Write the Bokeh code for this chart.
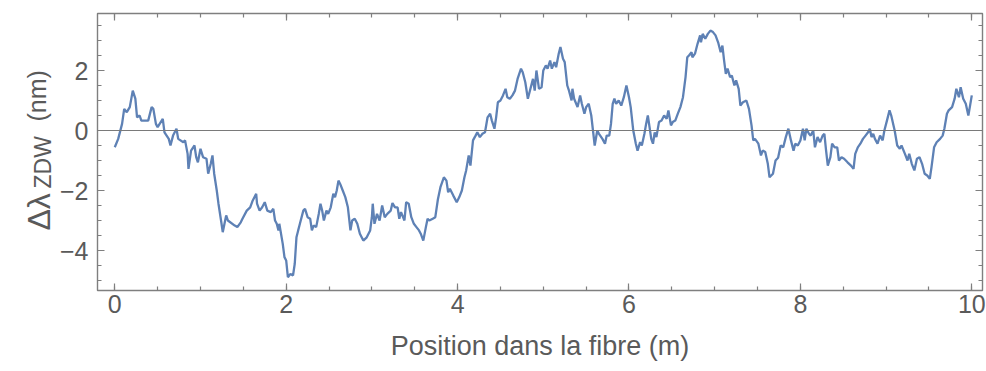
import math
from bokeh.plotting import figure
from bokeh.layouts import row
from bokeh.models import Span, LinearAxis, FixedTicker, Range1d, CustomLabelingPolicy
from bokeh.core.properties import value
from bokeh.embed import file_html
from bokeh.resources import INLINE

# ---- data ----
pos = [0.00, 0.04, 0.085, 0.11, 0.14, 0.175, 0.21, 0.24, 0.26, 0.29, 0.31, 0.39, 0.43, 0.45, 0.48, 0.50,
       0.56, 0.58, 0.63, 0.65, 0.68, 0.72, 0.74, 0.80, 0.82, 0.85, 0.86, 0.89, 0.93, 0.95, 0.97, 1.00,
       1.03, 1.07, 1.09, 1.12, 1.14, 1.16, 1.19, 1.21, 1.24, 1.26, 1.28, 1.30, 1.32, 1.40, 1.43, 1.47,
       1.49, 1.54, 1.58, 1.61, 1.65, 1.66, 1.69, 1.72, 1.75, 1.78, 1.82, 1.85, 1.87, 1.89, 1.91, 1.92,
       1.96, 1.98, 2.00, 2.02, 2.05, 2.08, 2.10, 2.12, 2.14, 2.16, 2.20, 2.22, 2.25, 2.28, 2.30, 2.32,
       2.35, 2.38, 2.40, 2.42, 2.44, 2.47, 2.49, 2.52, 2.55, 2.57, 2.59, 2.61, 2.63, 2.66, 2.69, 2.72,
       2.75, 2.77, 2.80, 2.83, 2.86, 2.90, 2.94, 2.98, 3.00, 3.01, 3.03, 3.06, 3.09, 3.12, 3.15, 3.18,
       3.22, 3.24, 3.27, 3.30, 3.32, 3.34, 3.38, 3.40, 3.43, 3.46, 3.49, 3.52, 3.55, 3.57, 3.60, 3.63,
       3.65, 3.67, 3.71, 3.74, 3.77, 3.80, 3.84, 3.87, 3.89, 3.91, 3.95, 3.99, 4.02, 4.05, 4.08, 4.10,
       4.13, 4.15, 4.18, 4.21, 4.23, 4.26, 4.29, 4.32, 4.35, 4.38, 4.40, 4.43, 4.45, 4.47, 4.50, 4.53,
       4.56, 4.58, 4.61, 4.64, 4.67, 4.70, 4.74, 4.76, 4.79, 4.82, 4.85, 4.88, 4.90, 4.92, 4.95, 4.98,
       5.00, 5.03, 5.05, 5.08, 5.10, 5.13, 5.15, 5.18, 5.20, 5.23, 5.25, 5.28, 5.30, 5.33, 5.34, 5.36,
       5.40, 5.43, 5.45, 5.48, 5.50, 5.53, 5.56, 5.58, 5.60, 5.63, 5.65, 5.69, 5.72, 5.74, 5.77, 5.79,
       5.81, 5.83, 5.85, 5.88, 5.91, 5.94, 5.97, 6.00, 6.02, 6.05, 6.08, 6.10, 6.13, 6.15, 6.18, 6.20,
       6.22, 6.24, 6.26, 6.28, 6.30, 6.32, 6.35, 6.38, 6.41, 6.44, 6.46, 6.49, 6.51, 6.54, 6.57, 6.60,
       6.63, 6.66, 6.68, 6.70, 6.73, 6.74, 6.77, 6.80, 6.83, 6.84, 6.86, 6.89, 6.92, 6.95, 6.98, 7.01,
       7.04, 7.07, 7.09, 7.11, 7.13, 7.15, 7.18, 7.20, 7.23, 7.25, 7.28, 7.30, 7.33, 7.37, 7.40, 7.43,
       7.45, 7.47, 7.51, 7.54, 7.56, 7.59, 7.62, 7.64, 7.68, 7.71, 7.74, 7.77, 7.80, 7.83, 7.86, 7.89,
       7.92, 7.94, 7.97, 8.00, 8.03, 8.05, 8.07, 8.10, 8.12, 8.15, 8.17, 8.20, 8.23, 8.26, 8.28, 8.30,
       8.32, 8.35, 8.37, 8.40, 8.43, 8.45, 8.48, 8.51, 8.55, 8.59, 8.62, 8.64, 8.67, 8.70, 8.73, 8.76,
       8.79, 8.81, 8.83, 8.85, 8.87, 8.90, 8.93, 8.96, 8.98, 9.01, 9.04, 9.06, 9.10, 9.13, 9.16, 9.18,
       9.22, 9.25, 9.27, 9.30, 9.33, 9.36, 9.39, 9.42, 9.45, 9.48, 9.51, 9.53, 9.56, 9.59, 9.63, 9.66,
       9.68, 9.71, 9.73, 9.77, 9.80, 9.82, 9.85, 9.87, 9.90, 9.93, 9.96, 9.98, 10.00]

dlambda = [-0.56, -0.28, 0.22, 0.72, 0.61, 0.78, 1.33, 1.06, 0.44, 0.50, 0.33, 0.33, 0.78, 0.72, 0.22, 0.11,
           0.39, -0.06, -0.28, -0.50, -0.17, 0.06, -0.28, -0.39, -0.33, -0.78, -1.28, -0.67, -0.50, -0.89, -1.06, -0.61,
           -0.89, -0.94, -1.44, -1.11, -0.83, -1.44, -2.00, -2.44, -3.00, -3.39, -3.11, -2.83, -3.00, -3.17, -3.22, -3.06,
           -2.94, -2.67, -2.56, -2.33, -2.11, -2.44, -2.67, -2.56, -2.39, -2.67, -2.72, -2.61, -3.00, -3.11, -3.33, -3.11,
           -3.78, -4.22, -4.33, -4.89, -4.78, -4.83, -4.44, -3.56, -3.33, -3.11, -2.67, -2.61, -2.89, -2.94, -3.33, -3.17,
           -3.22, -2.78, -2.44, -2.67, -3.00, -2.67, -2.78, -2.56, -2.11, -2.22, -2.00, -1.67, -1.78, -2.00, -2.22, -2.56,
           -3.33, -3.00, -2.94, -3.11, -3.44, -3.67, -3.56, -3.33, -2.89, -2.44, -3.11, -2.78, -3.00, -2.50, -2.89, -2.78,
           -2.67, -2.42, -2.56, -2.56, -2.94, -2.72, -3.00, -2.39, -2.44, -2.89, -3.11, -3.22, -3.33, -3.44, -3.67, -3.22,
           -2.94, -3.00, -2.94, -2.89, -2.30, -1.89, -1.56, -1.67, -2.06, -1.94, -2.17, -2.39, -2.22, -2.00, -1.56, -1.33,
           -0.83, -1.17, -0.33, -0.17, -0.06, -0.22, -0.11, -0.06, 0.44, 0.56, 0.33, 0.06, 0.44, 0.94, 1.00, 1.17,
           1.39, 1.11, 1.06, 1.17, 1.33, 1.72, 2.06, 1.94, 1.61, 1.06, 1.39, 1.72, 1.33, 2.00, 1.39, 1.44,
           2.00, 2.17, 2.06, 2.33, 2.06, 2.28, 2.11, 2.56, 2.78, 2.39, 2.28, 1.50, 1.33, 1.00, 1.39, 1.06,
           0.78, 1.17, 0.89, 0.56, 0.78, 0.89, 0.50, 0.00, -0.50, 0.00, -0.11, -0.28, -0.44, -0.17, -0.17, 0.22,
           0.89, 1.06, 0.89, 1.00, 0.83, 1.11, 1.50, 1.11, 0.78, 0.00, -0.44, -0.67, -0.39, -0.50, -0.11, 0.22,
           0.50, 0.11, -0.28, -0.44, -0.06, -0.22, 0.28, 0.33, 0.50, 0.39, 0.67, 0.17, 0.28, 0.33, 0.56, 0.78,
           1.11, 1.78, 2.44, 2.50, 2.61, 2.44, 2.56, 2.89, 3.17, 2.94, 3.22, 3.06, 3.22, 3.33, 3.28, 3.17,
           2.94, 2.61, 2.83, 2.33, 1.89, 2.06, 1.78, 1.83, 1.50, 1.67, 1.39, 0.83, 0.94, 1.00, 0.72, 0.17,
           -0.33, -0.28, -0.44, -0.83, -0.67, -0.72, -1.11, -1.56, -1.44, -1.00, -0.91, -0.50, -0.56, -0.22, 0.06, -0.33,
           -0.67, -0.44, -0.50, -0.33, 0.06, -0.33, 0.06, -0.11, -0.17, 0.00, -0.56, -0.22, -0.39, -0.17, -0.11, -0.67,
           -1.17, -0.89, -0.44, -0.56, -0.56, -1.00, -0.89, -0.94, -1.06, -1.17, -1.28, -0.78, -0.56, -0.44, -0.28, -0.17,
           -0.06, 0.06, -0.22, -0.11, -0.28, -0.44, -0.17, -0.33, 0.00, 0.33, 0.67, 0.50, 0.00, -0.50, -0.61, -0.50,
           -0.78, -1.00, -0.78, -1.11, -1.33, -0.94, -0.89, -1.11, -1.44, -1.50, -1.61, -1.22, -0.56, -0.39, -0.28, -0.17,
           0.06, 0.56, 0.67, 0.78, 1.06, 1.39, 1.11, 1.44, 1.06, 0.89, 0.50, 0.83, 1.17]

x_ticks = [0, 2, 4, 6, 8, 10]
x_minor = [i * 0.5 for i in range(-1, 22)]
y_ticks = [-4, -2, 0, 2]
y_minor = [i * 0.5 for i in range(-11, 9)]
y_tick_labels = {-4: "\u22124", -2: "\u22122", 0: "0", 2: "2"}

x_label = "Position dans la fibre (m)"
y_label_parts = ["\u0394\u03bb", "ZDW", "(nm)"]

# ---- styles ----
FONT = "Liberation Sans"
TXT = "#5a5a5a"
FRAME = "#7f7f7f"
LINE = "#5E81B5"
H = 370
TOP, BOTTOM = 13, 80          # frame borders (px); the row aligns both frames

# narrow figure holding the rotated y-axis title (with subscript);
# its frame shares the main frame's vertical extent, so its y unit is the page pixel (negated)
yl = figure(width=56, height=H, x_range=Range1d(0, 56), y_range=Range1d(-(H - BOTTOM), -TOP),
            x_axis_type=None, y_axis_type=None,
            output_backend="svg", toolbar_location=None,
            min_border_left=0, min_border_right=0, min_border_top=TOP, min_border_bottom=BOTTOM)
yl.grid.visible = False
yl.outline_line_color = None
yl.text(x=[38, 42, 36], y=[-230, -188, -121], text=y_label_parts,
        angle=math.pi / 2, text_align="left", text_baseline="alphabetic",
        text_font=value(FONT), text_font_size=["32px", "23px", "25px"], text_color=TXT)

p = figure(width=930, height=H,
           x_range=Range1d(-0.2016, 10.125), y_range=Range1d(-5.333, 3.9),
           output_backend="svg", toolbar_location=None,
           min_border_left=41, min_border_right=0, min_border_top=TOP, min_border_bottom=BOTTOM)
bottom_ax = p.below[0]
left_ax = p.left[0]
p.grid.visible = False
p.background_fill_color = "white"
p.border_fill_color = "white"
p.outline_line_color = FRAME
p.outline_line_width = 1.4

p.add_layout(Span(location=0, dimension="width", line_color="#7a7a7a", line_width=1.2))
p.line(pos, dlambda, line_color=LINE, line_width=2.3)

hide_all = CustomLabelingPolicy(code="for (const i of indices) { indices.unset(i) } return indices")
top_ax = LinearAxis(major_label_policy=hide_all)
right_ax = LinearAxis(major_label_policy=hide_all)
p.add_layout(top_ax, "above")
p.add_layout(right_ax, "right")

for ax in [bottom_ax, top_ax]:
    ax.ticker = FixedTicker(ticks=x_ticks, minor_ticks=x_minor)
for ax in [left_ax, right_ax]:
    ax.ticker = FixedTicker(ticks=y_ticks, minor_ticks=y_minor)

for ax in [bottom_ax, top_ax, left_ax, right_ax]:
    ax.axis_line_color = None
    ax.major_tick_line_color = FRAME
    ax.minor_tick_line_color = FRAME
    ax.major_tick_line_width = 1.2
    ax.minor_tick_line_width = 1.2
    ax.major_tick_in = 7
    ax.major_tick_out = 0
    ax.minor_tick_in = 4
    ax.minor_tick_out = 0
    ax.major_label_text_font = FONT
    ax.major_label_text_color = TXT
    ax.major_label_text_font_size = "25px"

for ax in [top_ax, right_ax]:
    ax.major_label_text_font_size = "1px"
    ax.major_label_standoff = 0
    ax.axis_label_standoff = 0

left_ax.major_label_overrides = y_tick_labels
left_ax.major_label_standoff = 9
bottom_ax.major_label_standoff = 4
bottom_ax.axis_label = x_label
bottom_ax.axis_label_text_font = FONT
bottom_ax.axis_label_text_font_style = "normal"
bottom_ax.axis_label_text_color = TXT
bottom_ax.axis_label_text_font_size = "27px"
bottom_ax.axis_label_standoff = 15

layout = row(yl, p, spacing=0)
open("out.html", "w").write(file_html(layout, INLINE))
